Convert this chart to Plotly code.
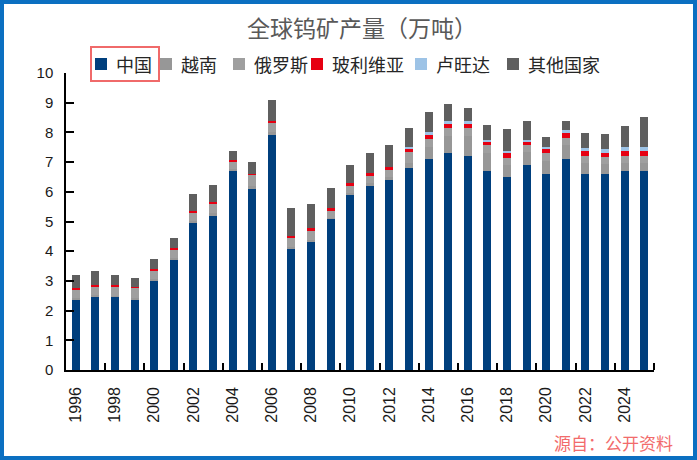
import plotly.graph_objects as go

# 全球钨矿产量（万吨），按国家拆分
years = list(range(1996, 2026))

china = [2.39, 2.48, 2.47, 2.39, 3.01, 3.71, 4.96, 5.19, 6.71, 6.11,
         7.92, 4.09, 4.34, 5.10, 5.91, 6.20, 6.40, 6.81, 7.10, 7.32,
         7.21, 6.71, 6.51, 6.90, 6.60, 7.10, 6.60, 6.60, 6.71, 6.71]
vietnam = [0.03, 0.03, 0.03, 0.05, 0.05, 0.05, 0.05, 0.10, 0.05, 0.10,
           0.10, 0.05, 0.05, 0.03, 0.05, 0.10, 0.10, 0.17, 0.40, 0.56,
           0.66, 0.60, 0.40, 0.45, 0.45, 0.47, 0.38, 0.34, 0.26, 0.26]
russia = [0.30, 0.30, 0.30, 0.33, 0.30, 0.30, 0.30, 0.32, 0.26, 0.36,
          0.33, 0.29, 0.29, 0.23, 0.24, 0.23, 0.22, 0.35, 0.27, 0.26,
          0.28, 0.26, 0.24, 0.22, 0.24, 0.25, 0.23, 0.22, 0.22, 0.22]
bolivia = [0.05, 0.05, 0.05, 0.04, 0.05, 0.05, 0.05, 0.05, 0.04, 0.04,
           0.05, 0.08, 0.11, 0.09, 0.10, 0.10, 0.12, 0.14, 0.15, 0.15,
           0.14, 0.11, 0.14, 0.11, 0.15, 0.16, 0.15, 0.16, 0.18, 0.18]
rwanda = [0, 0, 0, 0, 0, 0, 0, 0, 0, 0,
          0, 0, 0, 0, 0, 0, 0, 0.05, 0.09, 0.09,
          0.08, 0.06, 0.08, 0.06, 0.08, 0.11, 0.11, 0.11, 0.14, 0.14]
others = [0.42, 0.49, 0.36, 0.30, 0.32, 0.32, 0.57, 0.57, 0.31, 0.40,
          0.68, 0.94, 0.80, 0.68, 0.59, 0.69, 0.73, 0.62, 0.68, 0.58,
          0.44, 0.50, 0.74, 0.65, 0.33, 0.30, 0.50, 0.52, 0.70, 1.00]

series = [
    ("中国", china, "#003F7D"),
    ("越南", vietnam, "#979797"),
    ("俄罗斯", russia, "#9F9F9F"),
    ("玻利维亚", bolivia, "#E60012"),
    ("卢旺达", rwanda, "#9DC3E6"),
    ("其他国家", others, "#5F5F5F"),
]

cjk = "Noto Sans CJK SC"
num = "Liberation Sans"

# plot area in pixels: x 66..654, y 73 (=10) .. 370 (=0)
L, R, T, B = 66, 654, 73, 370


def px(x):
    return (x - L) / (R - L)


def py(y):
    return (B - y) / (B - T)


fig = go.Figure()
for name, vals, color in series:
    fig.add_trace(go.Bar(x=years, y=vals, name=name, width=0.4,
                         marker=dict(color=color, line=dict(width=0))))

fig.update_layout(
    width=697, height=460,
    margin=dict(l=L, r=697 - R, t=T, b=460 - B),
    barmode="stack",
    paper_bgcolor="white", plot_bgcolor="white",
    title=dict(text="全球钨矿产量（万吨）", x=px(362), xref="paper",
               xanchor="center", y=1 - 29 / 460, yanchor="middle",
               font=dict(family=cjk, size=23, color="#595959")),
    showlegend=False,
)

fig.update_xaxes(
    range=[1995.5, 2025.5],
    tickmode="array", tickvals=years[::2], ticks="",
    tickangle=-90, tickfont=dict(family=num, size=16, color="#1a1a1a"),
    showline=True, linecolor="black", linewidth=1.5,
    showgrid=False, zeroline=False, ticklabelstandoff=9,
    minor=dict(tickmode="array", tickvals=[y + 1.5 for y in years[::2]],
               ticks="inside", ticklen=7, tickcolor="black", tickwidth=1.5),
)
fig.update_yaxes(
    range=[0, 10], dtick=1, ticks="inside", ticklen=8,
    tickcolor="black", tickwidth=1.5,
    tickfont=dict(family=num, size=15, color="#1a1a1a"),
    showline=True, linecolor="black", linewidth=1.5,
    showgrid=False, zeroline=False, ticklabelstandoff=8,
)

# 手工图例：色块 + 文字
legend_marker_left = [95, 160, 233, 311, 415, 507]
for (name, _, color), x0 in zip(series, legend_marker_left):
    fig.add_shape(type="rect", xref="paper", yref="paper",
                  x0=px(x0), x1=px(x0 + 12), y0=py(70), y1=py(58),
                  fillcolor=color, line=dict(width=0))
    fig.add_annotation(text=name, xref="paper", yref="paper",
                       x=px(x0 + 19), xanchor="left", y=py(64),
                       yanchor="middle", showarrow=False,
                       font=dict(family=cjk, size=18, color="#262626"))

# 图例“中国”外的红框
fig.add_shape(type="rect", xref="paper", yref="paper",
              x0=px(91), x1=px(159), y0=py(81), y1=py(47),
              line=dict(color="#F06A6A", width=2))

# 外框
fig.add_shape(type="rect", xref="paper", yref="paper",
              x0=px(2), x1=px(695), y0=py(458), y1=py(2),
              line=dict(color="#0B6FC1", width=4))

fig.add_annotation(text="源自：公开资料", xref="paper", yref="paper",
                   x=px(675), xanchor="right", y=py(443),
                   yanchor="middle", showarrow=False,
                   font=dict(family=cjk, size=17, color="#F26B6B"))

fig.write_html("out.html", config={"displayModeBar": False},
               post_script="document.body.style.margin='0';")
